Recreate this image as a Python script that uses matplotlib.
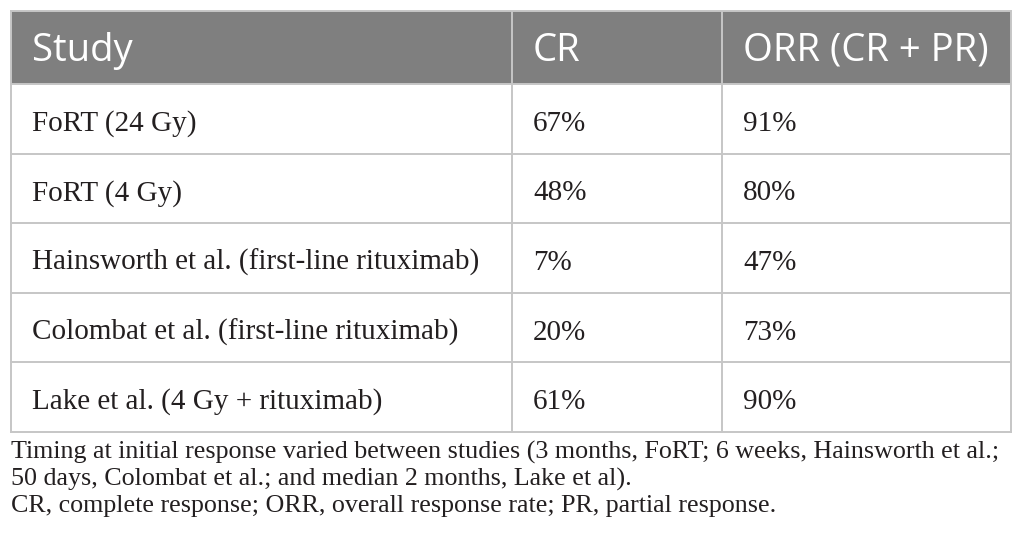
import matplotlib
matplotlib.use("Agg")
import matplotlib.pyplot as plt
from matplotlib.patches import Rectangle

# table content
header = ["Study", "CR", "ORR (CR + PR)"]
studies = ["FoRT (24 Gy)", "FoRT (4 Gy)",
           "Hainsworth et al. (first-line rituximab)",
           "Colombat et al. (first-line rituximab)",
           "Lake et al. (4 Gy + rituximab)"]
cr = ["67%", "48%", "7%", "20%", "61%"]
orr = ["91%", "80%", "47%", "73%", "90%"]
notes = ["Timing at initial response varied between studies (3 months, FoRT; 6 weeks, Hainsworth et al.;",
         "50 days, Colombat et al.; and median 2 months, Lake et al).",
         "CR, complete response; ORR, overall response rate; PR, partial response."]

W, H = 1026, 555
fig = plt.figure(figsize=(W / 100, H / 100), dpi=100)
ax = fig.add_axes([0, 0, 1, 1])
ax.set_xlim(0, W)
ax.set_ylim(H, 0)
ax.axis("off")

# geometry in pixels
col_x = [11, 512, 722, 1011]
head_top, head_bot = 11, 84
row_h = 69.5
pad = 21
grid = "#c6c6c6"
head_col = "#7f7f7f"
txt_col = "#231f20"

nrows = len(studies)
table_bot = head_bot + nrows * row_h

ax.add_patch(Rectangle((col_x[0], head_top), col_x[-1] - col_x[0], head_bot - head_top,
                       facecolor=head_col, edgecolor="none"))

# grid lines
for x in col_x:
    ax.plot([x, x], [head_top, table_bot], color=grid, lw=1.4)
for i in range(nrows + 1):
    y = head_bot + i * row_h
    ax.plot([col_x[0], col_x[-1]], [y, y], color=grid, lw=1.4)
ax.plot([col_x[0], col_x[-1]], [head_top, head_top], color=grid, lw=1.4)

for j, h in enumerate(header):
    ax.text(col_x[j] + pad, head_top + 50, h, color="white", fontsize=27.5,
            family="Open Sans", va="baseline", ha="left")

for i in range(nrows):
    yb = head_bot + i * row_h + 47
    for j, val in enumerate([studies[i], cr[i], orr[i]]):
        ax.text(col_x[j] + pad, yb, val, color=txt_col, fontsize=21,
                family="Liberation Serif", va="baseline", ha="left")

for k, line in enumerate(notes):
    ax.text(col_x[0], 459 + k * 26.3, line, color=txt_col, fontsize=18.7,
            family="Liberation Serif", va="baseline", ha="left")

fig.savefig("out.png", dpi=100)
